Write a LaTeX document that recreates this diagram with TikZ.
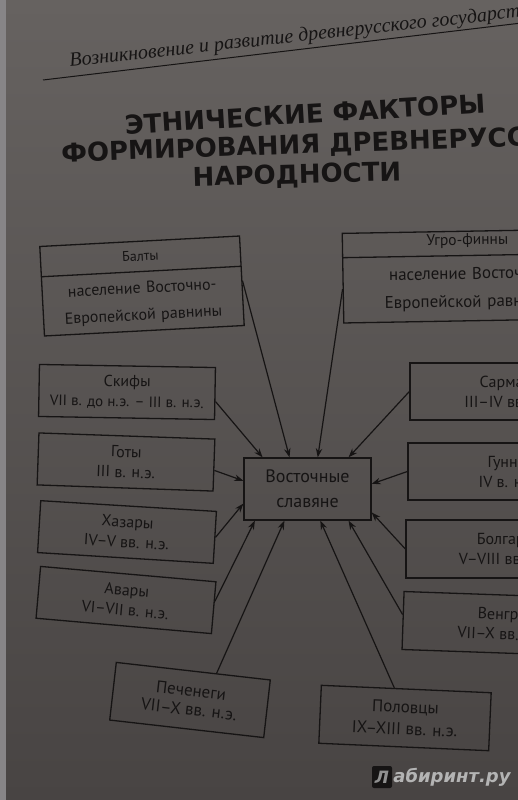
\documentclass[tikz,border=0pt]{standalone}
\usepackage{fontspec}
\setmainfont{PT Sans}
\newfontfamily\hdrfont{Liberation Serif}
\newfontfamily\ttlfont{DejaVu Sans}
\newfontfamily\wmfont{DejaVu Sans}
\usetikzlibrary{arrows.meta,calc,shapes.multipart}
\definecolor{bgtop}{RGB}{102,98,96}
\definecolor{bgbot}{RGB}{72,68,67}
\definecolor{ink}{RGB}{22,20,20}
\definecolor{strip}{RGB}{135,133,135}
\definecolor{wmtext}{RGB}{180,180,180}
\begin{document}
\begin{tikzpicture}[x=1pt,y=-1pt,
  box/.style={draw=ink, line width=1.3pt, align=center, inner sep=0pt, text=ink,
              font=\fontsize{16}{20}\selectfont},
  rbox/.style={box, minimum width=200pt, minimum height=57pt, font=\fontsize{16}{20}\selectfont},
  lbox/.style={box, minimum width=176pt, minimum height=52pt},
  split/.style={box, rectangle split, rectangle split parts=2},
  arr/.style={draw=ink, line width=1.2pt, -{Stealth[length=9pt,width=6.5pt]}},
  ttl/.style={font=\ttlfont\bfseries\fontsize{26}{26}\selectfont, text=ink, inner sep=0pt},
]
\useasboundingbox (0,0) rectangle (518,800);
\clip (0,0) rectangle (518,800);
\shade[top color=bgtop, bottom color=bgbot] (0,0) rectangle (518,800);
\fill[strip] (0,0) rectangle (6,800);

% header
\node[font=\hdrfont\itshape\fontsize{20}{20}\selectfont, text=ink, anchor=base west,
      rotate=6.3, inner sep=0pt] (hdr) at (70,67) {Возникновение и развитие древнерусского государства};
\coordinate (hl1) at (43,80);
\coordinate (hl2) at (530,22);
\draw[ink, line width=1pt] (hl1) -- (hl2);

% title
\node[ttl, rotate=3.4] (t1) at (305,114) {ЭТНИЧЕСКИЕ ФАКТОРЫ};
\node[ttl, rotate=2, anchor=west] (t2) at (61,152) {ФОРМИРОВАНИЯ ДРЕВНЕРУССКОЙ};
\node[ttl, rotate=1.5] (t3) at (297,176) {НАРОДНОСТИ};

% top split boxes
\node[split, text width=200pt, rotate=3, font=\fontsize{16}{27}\selectfont] (balty) at (142,286)
  {\fontsize{14}{14}\selectfont\rule[-10pt]{0pt}{29pt}Балты\nodepart{two}\rule{0pt}{21pt}население Восточно-\\Европейской равнины\rule[-10pt]{0pt}{0pt}};
\node[split, text width=250pt, rotate=1, font=\fontsize{17}{28}\selectfont] (ugro) at (468,276)
  {\fontsize{15.5}{15.5}\selectfont\rule[-10pt]{0pt}{23pt}Угро-финны\nodepart{two}\rule{0pt}{23pt}население Восточно-\\Европейской равнины\rule[-13pt]{0pt}{0pt}};

% left boxes
\node[lbox, rotate=-1] (skify) at (127,392) {Скифы\\{\fontsize{15}{20}\selectfont VII в. до н.э. – III в. н.э.}};
\node[lbox, rotate=-2] (goty) at (126,462) {Готы\\III в. н.э.};
\node[lbox, rotate=-3.5] (hazary) at (127,532) {Хазары\\IV–V вв. н.э.};
\node[lbox, rotate=-5] (avary) at (126,600) {Авары\\VI–VII в. н.э.};

% centre
\node[box, minimum width=127pt, minimum height=62pt, font=\fontsize{18}{25}\selectfont] (vs) at (307.5,489) {Восточные\\славяне};

% right boxes
\node[rbox] (sarm) at (510,391.5) {Сарматы\\III–IV вв. н.э.};
\node[rbox] (gunny) at (508,471.5) {Гунны\\IV в. н.э.};
\node[rbox, minimum height=58pt] (bolg) at (506,549) {Болгары\\V–VIII вв. н.э.};
\node[rbox, minimum height=58pt, rotate=-2] (vengr) at (503,624) {Венгры\\VII–X вв. н.э.};

% bottom boxes
\node[box, minimum width=155pt, minimum height=58pt, rotate=-6.5, font=\fontsize{17}{19}\selectfont] (pech) at (190,700) {Печенеги\\VII–X вв. н.э.};
\node[box, minimum width=170pt, minimum height=58pt, rotate=-2.5, font=\fontsize{17}{22}\selectfont] (polov) at (405,718) {Половцы\\IX–XIII вв. н.э.};

% arrows
\draw[arr] ($(skify.north east)!0.65!(skify.south east)$) -- ($(vs.north west)!0.15!(vs.north east)$);
\draw[arr] ($(balty.north east)!0.5!(balty.south east)$) -- ($(vs.north west)!0.36!(vs.north east)$);
\draw[arr] ($(ugro.north west)!0.62!(ugro.south west)$) -- ($(vs.north west)!0.58!(vs.north east)$);
\draw[arr] (sarm.west) -- ($(vs.north west)!0.82!(vs.north east)$);
\draw[arr] ($(goty.north east)!0.6!(goty.south east)$) -- ($(vs.north west)!0.37!(vs.south west)$);
\draw[arr] ($(hazary.north east)!0.5!(hazary.south east)$) -- ($(vs.north west)!0.73!(vs.south west)$);
\draw[arr] ($(avary.north east)!0.38!(avary.south east)$) -- ($(vs.south west)!0.09!(vs.south east)$);
\draw[arr] ($(pech.north west)!0.65!(pech.north east)$) -- ($(vs.south west)!0.32!(vs.south east)$);
\draw[arr] ($(polov.north west)!0.43!(polov.north east)$) -- ($(vs.south west)!0.6!(vs.south east)$);
\draw[arr] ($(vengr.north west)!0.4!(vengr.south west)$) -- ($(vs.south west)!0.82!(vs.south east)$);
\draw[arr] (bolg.west) -- ($(vs.north east)!0.87!(vs.south east)$);
\draw[arr] (gunny.west) -- ($(vs.north east)!0.42!(vs.south east)$);

% watermark
\node[fill=ink, rounded corners=2pt, minimum width=20pt, minimum height=22pt, inner sep=0pt,
      text=wmtext!80!black, font=\wmfont\bfseries\itshape\fontsize{17}{17}\selectfont] (wmL) at (382,777) {Л};
\node[anchor=west, inner sep=1pt, text=wmtext, font=\wmfont\bfseries\itshape\fontsize{18}{18}\selectfont] (wm) at (wmL.east) {абиринт.ру};
\end{tikzpicture}
\end{document}
